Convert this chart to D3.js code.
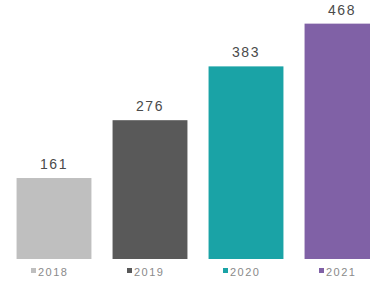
<!DOCTYPE html>
<html>
<head>
<meta charset="utf-8">
<script src="https://d3js.org/d3.v7.min.js"></script>
<style>
body { margin: 0; background: #fff; }
svg { display: block; font-family: "Liberation Sans", Arial, sans-serif; }
</style>
</head>
<body>
<div id="chart"></div>
<script>
var years = ["2018", "2019", "2020", "2021"];
var values = [161, 276, 383, 468];
var colors = ["#bfbfbf", "#595959", "#1aa3a6", "#8061a6"];

var width = 370, height = 281;
var margin = {top: 0, right: 0, bottom: 22, left: 6};

var svg = d3.select("#chart")
            .append("svg")
            .attr("width", width)
            .attr("height", height);

var x = d3.scaleBand()
          .domain(years)
          .range([margin.left, margin.left + 4 * 96])
          .paddingInner(0.22)
          .paddingOuter(0.11);

var y = d3.scaleLinear()
          .domain([0, 515])
          .range([height - margin.bottom, height - margin.bottom - 259]);

svg.append("g")
   .selectAll("rect")
   .data(years)
   .enter().append("rect")
   .attr("x", function(d) { return x(d); })
   .attr("y", function(d, i) { return y(values[i]); })
   .attr("width", x.bandwidth())
   .attr("height", function(d, i) { return y(0) - y(values[i]); })
   .style("fill", function(d, i) { return colors[i]; });

svg.append("g")
   .selectAll("text")
   .data(years)
   .enter().append("text")
   .attr("x", function(d) { return x(d) + x.bandwidth() / 2; })
   .attr("y", function(d, i) { return y(values[i]) - 9; })
   .attr("text-anchor", "middle")
   .style("font-size", "14px")
   .style("letter-spacing", "1.5px")
   .style("fill", "#4a4a4a")
   .text(function(d, i) { return values[i]; });

// legend under each bar
var legend = svg.append("g")
   .selectAll("g")
   .data(years)
   .enter().append("g")
   .attr("transform", function(d) { return "translate(" + (x(d) + x.bandwidth() / 2) + ",276)"; });

legend.append("rect")
   .attr("x", -23)
   .attr("y", -8)
   .attr("width", 5)
   .attr("height", 5)
   .style("fill", function(d, i) { return colors[i]; });

legend.append("text")
   .attr("x", -16)
   .attr("y", 0)
   .style("font-size", "11px")
   .style("letter-spacing", "1.5px")
   .style("fill", "#8a8a8a")
   .text(function(d) { return d; });
</script>
</body>
</html>
